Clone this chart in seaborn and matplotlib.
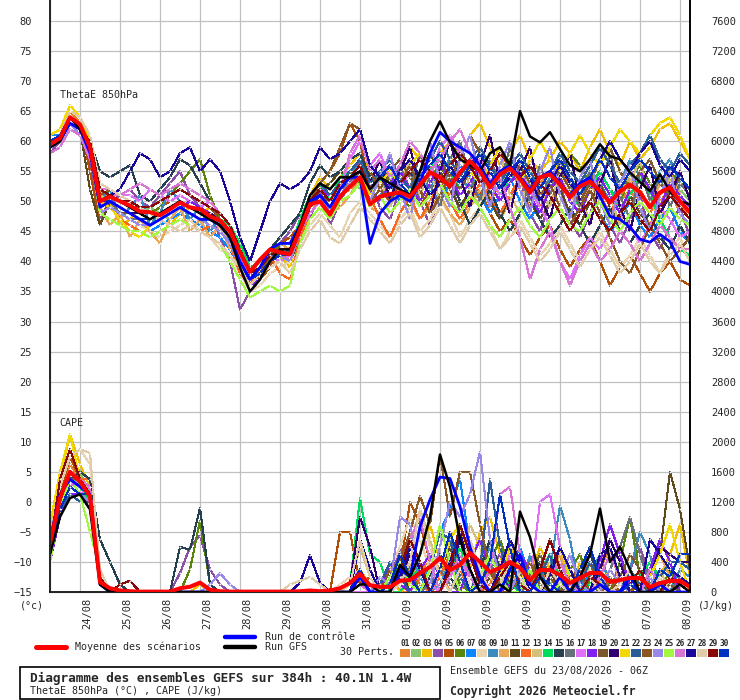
import numpy as np
import pandas as pd
import seaborn as sns
import matplotlib
matplotlib.use('Agg')
import matplotlib.pyplot as plt
from matplotlib.lines import Line2D
from matplotlib.patches import Rectangle
from matplotlib.transforms import ScaledTranslation

# ThetaE 850hPa (°C), one value every 6h from 23/08 06Z to 08/09 06Z
theta_mean = [59.5,60.5,64,62.8,59,50,50.8,50,49.3,48.3,48.2,47.7,48.7,49.8,49,48.7,47.5,46.8,45,41.5,38.3,40.3,42,41.5,41.2,45.3,49.5,50,47.8,50.8,52.5,54,49.5,50.8,51.2,51.5,50.8,52.8,54.8,54,52.5,54.8,56.7,55,52.3,54.5,55.5,53.7,51.5,54,54.5,52.8,50.7,52.5,53.3,51.7,49.8,51.7,52.8,51.5,49,51.5,52.3,50,48.2]
theta_ctrl = [59,60,63,62,58,49,50,49,48,47,46,47,48,49,48,47,47,46,44,40,37,39,42,43,43,46,50,51,49,52,54,54,43,48,50,51,50,53,58,61.5,60,59,58,56,53,55,56,54,52,54,55,53,51,53,54,50.8,47.5,47,45.7,43.7,43.2,44.5,43.3,40,39.5]
theta_gfs = [59,60,64,62,59,50,51,50,49,48,47,48,49,50,49,48,47,46,44,39,35,37,40,42,42,46,51,53,52,54,54,55,52,54,53,52,51,55,60,63.3,59.8,57,56,55,58,59,56,65,60.8,59.8,61.5,58.7,56,55,57,59.5,57.5,57,54.8,53.2,51.7,54.5,51.7,50,49.5]

theta_01 = [59,61,65,63,58,49,51,50,49,48,47,48,49,50,49,48,47,46,44,40,37,39,41,42,40,44,48,50,47,51,53,55,50,52,51,53,51,54,56,53,51,55,57,54,50,53,56,52,49,53,55,51,48,51,53,50,47,50,52,49,46,50,52,48,46]
theta_02 = [60,60,63,62,60,51,50,49,48,48,49,48,47,49,48,47,46,45,44,41,39,38,40,41,42,46,50,51,49,52,54,52,51,53,55,52,50,53,55,57,54,52,55,58,56,53,55,57,54,51,53,56,54,52,55,53,50,52,54,56,53,51,54,52,50]
theta_03 = [60,61,66,64,60,52,50,46,47,49,48,47,46,48,49,48,49,47,45,42,36,38,40,41,39,45,51,54,52,54,56,58,55,57,54,56,59,57,55,58,60,57,61,63,59,56,58,61,57,55,57,60,58,55,59,62,58,56,60,57,59,62,63,60,57]
theta_04 = [58,60,63,62,57,47,50,51,52,50,49,51,53,55,51,49,48,44,40,32,35,37,41,43,45,48,47,52,46,50,53,57,53,49,47,52,55,50,46,51,54,48,52,56,51,47,50,54,48,45,50,53,47,44,48,52,46,43,47,51,45,42,46,49,44]
theta_05 = [59,60,64,63,55,46,51,50,49,48,48,49,50,51,50,49,48,46,45,42,38,37,39,43,44,46,50,53,55,58,63,60,52,50,53,55,52,49,52,54,50,47,50,52,48,45,47,44,41,44,46,42,39,42,44,40,36,39,41,38,35,38,40,37,36]
theta_06 = [59,60,64,62,59,50,51,50,49,49,48,49,51,53,55,57,51,47,45,40,36,37,41,43,42,44,48,50,48,53,55,53,50,52,54,51,49,52,54,56,53,55,57,54,52,54,57,55,52,50,53,55,58,56,53,55,52,50,54,56,53,51,55,53,52]
theta_07 = [61,61,64,62,58,48,49,48,47,46,45,46,47,48,47,46,45,44,42,39,37,39,41,40,41,45,47,49,47,50,51,53,49,51,53,50,52,55,52,50,53,56,54,51,48,51,54,50,47,50,53,49,46,49,52,48,45,47,50,46,44,47,49,45,43]
theta_08 = [58,59,64,63,61,51,50,48,47,46,45,44,45,46,47,45,44,42,41,38,35,36,38,39,40,43,46,48,46,44,48,50,48,46,44,47,49,45,47,50,48,44,47,49,46,42,45,47,44,41,43,46,43,40,43,45,42,39,41,44,41,38,42,44,40]
theta_09 = [60,61,64,62,59,50,52,47,49,51,46,48,52,50,47,49,45,47,43,39,36,38,40,41,41,46,50,52,50,53,55,56,52,54,52,55,57,54,52,55,57,54,52,56,53,50,53,56,52,50,54,56,53,51,55,53,50,53,57,54,51,55,57,53,51]
theta_10 = [59,60,63,61,58,49,46,48,44,47,45,43,47,49,45,47,44,46,42,40,38,40,42,43,42,45,49,50,48,49,51,54,49,48,50,52,50,47,49,51,48,46,49,52,50,47,50,53,51,48,52,54,51,49,53,50,47,51,54,52,49,53,55,51,49]
theta_11 = [60,61,64,62,52,46,50,49,48,47,47,48,49,50,49,48,47,46,44,41,37,38,40,41,40,44,49,52,53,55,54,56,51,53,56,54,52,55,58,55,52,49,52,54,50,47,51,54,50,47,50,52,48,46,50,53,49,47,51,48,46,49,52,49,47]
theta_12 = [59,60,63,62,59,50,49,47,46,45,44,45,46,47,46,45,46,45,43,38,36,39,41,38,37,44,48,50,47,51,52,54,51,47,44,48,51,47,50,53,50,47,50,53,51,48,51,54,52,49,52,55,53,50,53,51,48,51,53,50,48,51,53,49,48]
theta_13 = [59,60,64,63,60,51,50,49,48,47,46,47,48,49,48,47,46,45,44,41,38,39,41,42,41,45,49,51,49,51,53,54,50,54,49,53,57,51,55,50,56,59,52,49,55,58,51,48,56,52,49,55,58,50,47,54,51,46,53,57,50,47,54,50,48]
theta_14 = [60,61,64,62,59,50,50,49,48,48,47,48,49,50,49,48,47,47,46,43,39,40,42,41,42,47,51,53,50,54,55,57,52,54,51,53,56,53,55,58,55,52,55,57,54,51,54,56,53,50,53,55,52,49,52,55,52,49,51,54,51,47,44,42,41]
theta_15 = [59,60,63,62,60,55,54,55,56,51,50,52,54,57,56,53,50,48,46,42,38,39,42,44,46,48,53,56,54,55,57,58,54,52,50,53,55,52,48,51,54,50,46,49,52,48,45,48,51,47,44,46,49,46,43,46,49,45,43,46,48,44,42,46,43]
theta_16 = [60,61,64,62,59,50,50,48,47,47,46,47,48,49,48,47,46,45,43,40,37,38,40,41,41,45,49,51,49,52,53,55,51,55,50,56,52,58,53,49,57,60,54,50,57,53,59,54,50,56,51,57,53,49,55,52,58,51,47,55,50,54,49,53,51]
theta_17 = [58,59,62,61,57,52,52,51,51,50,52,51,50,51,50,49,50,48,46,42,38,39,41,40,41,45,48,50,48,52,57,60,56,58,54,52,55,57,54,59,61,58,55,57,54,51,53,55,52,49,46,40,37,41,44,42,45,48,46,43,46,49,47,44,45]
theta_18 = [59,60,64,62,58,49,50,49,48,47,46,47,48,49,50,49,48,47,45,40,36,37,40,41,42,46,50,52,51,53,54,56,52,50,53,55,52,50,53,56,54,51,53,56,53,50,53,55,51,48,52,54,50,48,52,54,51,48,52,55,52,49,53,51,49]
theta_19 = [60,60,64,62,59,50,49,48,48,47,46,47,48,49,48,47,47,46,44,40,37,39,41,42,41,45,49,51,50,52,54,55,50,52,55,57,54,52,55,57,54,52,55,58,55,52,54,56,53,50,53,55,52,50,53,57,59,55,52,55,57,53,51,54,52]
theta_20 = [59,60,63,62,59,50,50,49,48,48,47,48,49,50,49,48,48,47,45,41,38,39,41,42,41,46,50,52,50,53,54,56,53,57,50,55,59,52,48,55,60,54,49,56,61,53,48,55,59,51,47,54,58,50,46,53,57,49,45,52,56,48,51,55,50]
theta_21 = [61,62,66,64,60,50,49,47,45,44,46,47,48,49,48,47,46,45,43,40,37,38,41,42,41,45,50,52,50,52,54,55,51,53,55,53,56,58,55,53,56,58,55,53,56,59,56,53,57,60,57,55,58,61,58,56,59,62,60,58,61,63,64,61,57]
theta_22 = [60,61,64,62,59,50,50,49,48,47,47,48,49,50,49,48,47,46,44,41,38,39,41,41,42,46,51,53,51,53,55,57,53,55,57,54,52,55,57,60,57,54,57,59,56,53,56,58,55,52,55,58,55,53,56,59,56,53,56,58,61,57,55,58,56]
theta_23 = [59,60,64,62,59,51,52,51,50,49,49,50,51,52,51,50,49,47,45,41,37,38,41,42,41,45,50,53,55,59,63,62,55,52,50,53,56,52,48,51,54,57,61,58,55,52,55,57,54,51,53,49,46,49,52,48,44,40,38,42,46,43,40,42,44]
theta_24 = [59,60,63,61,58,48,49,48,47,46,46,47,48,49,48,47,46,45,43,39,36,38,40,41,40,45,49,51,48,51,53,54,50,54,58,52,47,55,60,53,49,57,61,54,49,56,60,52,48,55,59,51,47,54,57,50,46,53,56,49,45,51,55,48,46]
theta_25 = [59,60,64,62,58,48,47,46,45,45,44,45,46,47,46,45,44,43,40,37,34,35,36,35,36,43,47,49,47,50,51,53,49,51,48,50,52,49,51,53,50,48,51,49,46,44,47,49,46,44,47,49,46,45,48,50,47,45,48,50,48,46,49,47,46]
theta_26 = [58,59,62,61,58,52,51,51,52,53,52,51,52,53,52,51,50,48,46,41,37,38,40,41,41,45,48,50,48,52,58,61,55,57,54,56,60,58,55,57,60,62,58,55,52,54,49,44,37,42,45,40,36,40,43,40,42,45,43,40,43,46,44,42,42]
theta_27 = [60,60,64,62,59,50,51,52,55,58,57,54,55,58,59,55,57,55,50,44,40,45,50,53,52,53,55,59,57,58,60,62,56,54,52,55,57,54,51,53,56,53,55,58,55,52,54,57,54,50,53,56,53,51,54,57,60,57,55,58,60,56,54,57,55]
theta_28 = [59,61,65,64,61,53,52,51,50,49,48,47,46,45,46,45,44,43,41,39,36,38,39,40,38,42,45,47,44,43,46,49,47,45,43,46,48,44,46,49,46,43,46,48,45,42,44,46,43,40,42,45,42,39,42,44,41,38,40,43,40,38,41,43,40]
theta_29 = [60,60,64,62,60,52,51,50,50,49,49,50,51,52,51,50,49,48,46,42,38,39,41,42,42,46,50,52,50,53,54,56,52,54,56,53,55,57,55,53,56,58,56,53,55,58,56,54,56,53,51,48,45,48,50,47,45,48,50,47,45,49,51,49,47]
theta_30 = [60,61,64,62,59,50,50,49,48,47,47,48,49,50,49,48,47,46,44,40,37,38,40,41,41,45,49,51,49,52,54,55,52,54,56,53,51,54,56,58,55,53,56,58,55,52,55,57,54,52,55,57,54,51,54,57,54,52,55,57,55,53,56,54,52]

# CAPE (J/kg)
cape_mean = [650,1250,1600,1470,1270,130,50,20,10,5,5,5,5,50,70,125,30,10,5,5,5,5,5,5,5,10,20,10,20,50,120,240,90,70,67,150,160,253,333,450,293,360,520,400,267,320,400,320,160,293,293,227,120,187,253,253,133,160,187,187,67,120,147,147,67]
cape_ctrl = [700,1300,1500,1400,1300,100,0,0,0,0,0,0,0,0,0,0,0,0,0,0,0,0,0,0,0,0,0,0,0,0,0,200,0,0,0,300,200,870,1230,1530,1510,1140,600,200,0,0,300,500,100,0,0,200,0,0,0,100,0,0,200,0,0,100,0,0,0]
cape_gfs = [500,1000,1250,1300,1100,100,0,0,0,0,0,0,0,0,0,0,0,0,0,0,0,0,0,0,0,0,0,0,0,0,0,100,100,0,0,360,200,500,1000,1830,1400,700,300,0,0,100,0,1070,730,200,0,0,0,200,500,1110,400,600,300,0,0,0,0,100,0]

cape_01 = [500,1300,1700,1500,1200,100,0,0,0,0,0,0,0,0,0,0,0,0,0,0,0,0,0,0,0,0,0,0,0,0,100,300,0,100,300,0,0,200,500,300,0,0,400,700,200,0,100,300,0,0,200,500,100,0,0,300,600,200,0,0,100,300,0,0,0]
cape_02 = [700,1400,1800,1600,1300,150,0,0,0,0,0,0,0,0,0,0,0,0,0,0,0,0,0,0,0,0,0,0,0,0,0,200,100,0,0,400,800,300,0,0,200,600,300,0,0,0,500,200,0,0,100,300,0,0,400,200,0,0,300,100,0,0,200,0,0]
cape_03 = [800,1500,2100,1700,1400,200,0,0,0,0,0,0,0,0,0,100,0,0,0,0,0,0,0,0,0,0,0,0,0,0,0,100,0,0,200,0,100,500,900,400,100,0,300,800,1000,500,100,0,200,600,300,0,0,400,200,0,0,100,300,0,0,200,500,900,200]
cape_04 = [400,1000,1500,1400,1300,200,0,0,0,0,0,0,0,250,600,750,300,100,0,0,0,0,0,0,0,0,0,0,0,0,0,0,0,0,200,600,300,0,0,100,400,200,0,0,300,500,200,0,100,400,200,0,0,200,500,300,0,0,300,600,200,0,0,100,0]
cape_05 = [600,1300,1800,1500,1200,150,0,0,0,0,0,0,0,0,0,0,0,0,0,0,0,0,0,0,0,0,0,0,0,800,800,100,200,0,0,300,1200,900,400,0,200,500,200,0,0,300,0,0,100,200,0,0,300,100,0,0,200,0,0,100,0,0,0,0,0]
cape_06 = [500,1200,1600,1500,1300,100,0,0,0,0,0,0,0,0,300,950,100,0,0,0,0,0,0,0,0,0,0,0,0,0,0,100,0,0,100,400,300,0,0,200,500,100,0,0,400,700,300,0,0,200,0,0,300,500,100,0,0,400,1000,200,0,0,300,0,0]
cape_07 = [600,1200,1500,1400,1200,100,0,0,0,0,0,0,0,0,0,0,0,0,0,0,0,0,0,0,0,0,0,0,0,0,0,200,0,0,100,300,0,0,400,800,1100,1500,600,200,0,0,300,600,200,0,0,100,0,0,300,100,0,0,200,0,0,100,0,0,0]
cape_08 = [700,1500,1800,1900,1700,300,0,0,0,0,0,0,0,0,0,0,0,0,0,0,0,0,0,0,0,0,0,0,0,100,200,300,0,0,300,600,1000,700,300,0,200,400,100,0,0,200,500,200,0,0,300,0,0,100,300,0,0,200,0,0,100,0,0,0,0]
cape_09 = [500,1100,1400,1300,1200,100,0,0,0,0,0,0,0,0,0,0,0,0,0,0,0,0,0,0,0,0,0,0,0,0,0,100,0,0,0,200,500,200,0,100,400,200,0,300,600,300,0,0,500,0,300,1150,700,0,200,500,100,0,300,800,500,0,0,300,200]
cape_10 = [600,1200,1500,1500,1300,150,0,0,0,0,0,0,0,0,0,0,0,0,0,0,0,0,0,0,0,0,0,0,0,0,100,300,100,0,0,200,400,100,0,0,300,800,500,100,0,300,700,300,0,0,200,500,200,0,0,400,600,100,0,0,200,500,200,0,0]
cape_11 = [500,1100,1500,1400,1200,100,0,0,0,0,0,0,0,0,0,0,0,0,0,0,0,0,0,0,0,0,0,0,0,0,0,200,0,0,200,400,100,0,0,300,600,200,0,0,200,400,100,0,0,200,300,0,0,100,400,200,0,0,100,300,200,500,1600,1100,300]
cape_12 = [600,1300,1600,1500,1500,200,0,0,0,0,0,0,0,0,0,0,0,0,0,0,0,0,0,0,0,0,0,0,0,0,0,100,0,0,0,100,300,100,0,200,500,300,0,0,100,400,200,0,0,300,100,0,0,200,400,100,0,0,300,100,0,0,200,0,0]
cape_13 = [500,1200,1500,1400,1300,100,0,0,0,0,0,0,0,0,0,0,0,0,0,0,0,0,0,0,0,0,0,0,0,0,100,600,200,0,0,200,600,1100,700,200,0,300,900,600,200,0,100,300,0,0,200,400,100,0,0,200,0,0,100,0,0,300,0,0,0]
cape_14 = [500,1200,1600,1400,1200,100,0,0,0,0,0,0,0,0,0,0,0,0,0,0,0,0,0,0,0,0,0,0,0,0,100,1250,500,400,0,0,200,300,100,0,300,600,200,0,0,200,100,0,0,300,500,200,0,0,100,300,100,0,0,200,400,200,0,0,0]
cape_15 = [600,1300,1500,1600,1500,700,400,100,0,0,0,0,0,600,560,1120,100,0,0,0,0,0,0,0,0,0,0,0,0,0,0,200,0,0,100,300,0,0,200,500,200,0,0,300,700,300,0,0,200,400,100,0,0,300,500,200,0,0,100,300,0,0,200,0,0]
cape_16 = [600,1200,1500,1400,1300,100,0,0,0,0,0,0,0,0,0,0,0,0,0,0,0,0,0,0,0,0,0,0,0,0,0,0,0,0,100,200,0,0,100,300,100,0,0,200,400,100,0,0,100,300,0,0,100,200,0,0,300,600,1000,500,100,0,0,200,100]
cape_17 = [500,1000,1300,1300,1400,200,0,0,0,0,0,0,0,0,0,0,0,0,0,0,0,0,0,0,0,0,0,0,0,0,0,0,0,0,0,200,500,300,100,0,200,400,200,0,0,200,500,300,100,1200,1300,600,200,0,0,200,0,0,100,0,0,0,0,0,0]
cape_18 = [400,1000,1300,1300,1100,100,0,0,0,0,0,0,0,0,0,0,0,0,0,0,0,0,0,0,0,0,0,0,0,0,100,300,0,0,400,100,0,300,500,200,0,0,400,700,300,0,100,500,300,0,0,200,100,0,0,400,900,500,100,0,300,700,400,0,0]
cape_19 = [600,1300,1600,1500,1300,100,0,0,0,0,0,0,0,0,0,0,0,0,0,0,0,0,0,0,0,0,0,0,0,0,0,100,0,0,100,300,200,0,0,300,700,400,0,0,300,100,0,0,200,500,200,0,0,100,400,0,0,200,500,300,0,0,100,0,0]
cape_20 = [500,1100,1400,1300,1200,100,0,0,0,0,0,0,0,0,0,0,0,0,0,0,0,0,0,0,0,0,0,0,0,0,100,1000,600,0,0,200,500,400,0,0,300,700,300,0,0,200,400,100,0,0,300,600,200,0,0,300,700,400,0,0,200,600,500,400,400]
cape_21 = [900,1600,2100,1500,1300,200,0,0,0,0,0,0,0,0,0,0,0,0,0,0,0,0,0,0,0,0,0,0,0,0,0,100,0,0,200,400,100,0,0,300,700,900,300,0,0,200,600,300,0,0,200,600,200,0,0,100,300,100,0,0,200,500,900,400,0]
cape_22 = [500,1100,1300,1200,1200,100,0,0,0,0,0,0,0,0,0,0,0,0,0,0,0,0,0,0,0,0,0,0,0,0,0,200,0,100,400,200,0,0,300,800,700,200,0,300,1500,600,200,0,0,200,500,0,0,100,400,200,0,0,300,100,0,200,400,400,300]
cape_23 = [600,1200,1500,1500,1400,200,0,0,0,0,0,0,0,0,0,0,0,0,0,0,0,0,0,0,0,0,0,0,0,0,0,100,0,0,300,400,800,1280,900,1830,1000,1600,1600,900,300,0,0,200,400,100,0,0,200,300,0,0,100,0,0,200,0,0,0,0,0]
cape_24 = [500,1100,1400,1300,1200,100,0,0,0,0,0,0,0,0,0,0,100,250,100,0,0,0,0,0,0,0,0,0,0,0,0,200,0,200,100,1000,900,300,100,600,1200,1000,1300,1870,700,200,0,300,100,0,0,200,500,100,0,0,300,100,0,0,200,0,0,100,0]
cape_25 = [400,1100,1500,1300,800,300,0,0,0,0,0,0,0,0,0,0,0,0,0,0,0,0,0,0,0,0,0,0,0,0,0,100,0,0,200,400,100,0,300,900,400,0,0,200,500,200,0,0,300,0,0,100,300,0,0,200,0,0,100,300,0,0,0,0,0]
cape_26 = [500,1100,1400,1500,1400,200,0,0,0,0,0,0,0,0,0,0,0,0,0,0,0,0,0,0,0,0,0,0,0,0,0,100,0,0,100,300,700,1000,400,0,200,500,200,0,300,1300,1400,500,100,0,200,400,100,0,0,200,500,200,0,0,300,100,0,0,0]
cape_27 = [600,1300,1500,1400,1300,100,0,0,0,0,0,0,0,0,0,0,0,0,0,0,0,0,0,0,0,120,490,120,0,0,0,700,300,0,0,200,600,300,0,0,400,800,300,0,0,300,700,400,0,0,200,600,300,0,0,500,600,200,0,0,700,500,300,200,100]
cape_28 = [700,1400,1800,1900,1850,300,0,0,0,0,0,0,0,0,0,0,0,0,0,0,0,0,0,0,100,150,200,100,0,0,100,700,200,0,0,100,400,1100,600,200,0,300,700,300,0,100,400,200,0,0,300,100,0,0,200,0,0,100,300,0,0,200,0,0,0]
cape_29 = [600,1500,1900,1500,1300,200,0,100,150,0,0,0,0,0,0,0,0,0,0,0,0,0,0,0,0,0,0,0,0,0,0,200,0,0,100,300,700,400,0,0,300,900,500,100,0,200,400,100,0,300,700,300,0,0,200,100,0,0,100,300,0,0,200,100,0]
cape_30 = [500,1100,1400,1300,1300,100,0,0,0,0,0,0,0,0,0,0,0,0,0,0,0,0,0,0,0,0,0,0,0,0,0,300,0,0,100,500,200,0,0,300,800,400,0,100,400,1300,600,0,0,200,100,0,0,300,600,200,0,0,100,0,0,300,200,500,500]

member_colors = ['#e8832e', '#88c46c', '#f0c000', '#8c4fa8', '#b04e08', '#5a840a', '#0a84ff', '#e8d4b0',
                 '#3a8cc0', '#e8a858', '#5e4a1c', '#f86820', '#d4c078', '#00dc5c', '#264050', '#687078',
                 '#e070f8', '#8020f0', '#7a5a2c', '#300070', '#f0d800', '#2a5c98', '#8a5624', '#9888e8',
                 '#a0f840', '#d874d4', '#1a0898', '#e0ccaa', '#880808', '#0030c0']

day_labels = ['24/08', '25/08', '26/08', '27/08', '28/08', '29/08', '30/08', '31/08',
              '01/09', '02/09', '03/09', '04/09', '05/09', '06/09', '07/09', '08/09']

theta_members = [theta_01, theta_02, theta_03, theta_04, theta_05, theta_06, theta_07, theta_08, theta_09, theta_10,
                 theta_11, theta_12, theta_13, theta_14, theta_15, theta_16, theta_17, theta_18, theta_19, theta_20,
                 theta_21, theta_22, theta_23, theta_24, theta_25, theta_26, theta_27, theta_28, theta_29, theta_30]
cape_members = [cape_01, cape_02, cape_03, cape_04, cape_05, cape_06, cape_07, cape_08, cape_09, cape_10,
                cape_11, cape_12, cape_13, cape_14, cape_15, cape_16, cape_17, cape_18, cape_19, cape_20,
                cape_21, cape_22, cape_23, cape_24, cape_25, cape_26, cape_27, cape_28, cape_29, cape_30]

n = len(theta_mean)
hours = np.arange(n) * 6
for tag, group in [('theta', theta_members), ('cape', cape_members)]:
    for k, s in enumerate(group):
        if len(s) != n:
            raise ValueError('%s %02d has %d values' % (tag, k + 1, len(s)))

sns.set_style('white')
plt.rcParams['font.family'] = ['DejaVu Sans Mono']

W, H = 740, 700
fig = plt.figure(figsize=(W / 100, H / 100), dpi=100)
ax = fig.add_axes([50 / W, 1 - 592 / H, 640 / W, 592 / H])
ymin, ymax = -15, 83.5
ax.set_xlim(0, 384)
ax.set_ylim(ymin, ymax)

ax.set_yticks(np.arange(-15, 81, 5))
ax.set_xticks(18 + 24 * np.arange(len(day_labels)))
ax.grid(True, color='#c0c0c0', lw=0.9)
ax.set_axisbelow(True)
for s in ['left', 'right', 'bottom']:
    ax.spines[s].set_color('black')
    ax.spines[s].set_linewidth(1.2)
ax.spines['top'].set_visible(False)

ax2 = ax.twinx()
ax2.spines['top'].set_visible(False)
ax2.spines['right'].set_color('black')
ax2.spines['right'].set_linewidth(1.2)

# thin 1px lines with tiny crosses at each 6h step
thin = dict(lw=0.75, marker='+', ms=2, mew=0.6, antialiased=False)
for s, c in zip(theta_members, member_colors):
    sns.lineplot(x=hours, y=s, color=c, ax=ax, **thin)
sns.lineplot(x=hours, y=theta_ctrl, color='#0000ff', lw=2.0, ax=ax)
sns.lineplot(x=hours, y=theta_gfs, color='black', lw=1.8, ax=ax)
sns.lineplot(x=hours, y=theta_mean, color='#ff0000', lw=2.9, ax=ax)

for s, c in zip(cape_members, member_colors):
    sns.lineplot(x=hours, y=s, color=c, ax=ax2, **thin)
sns.lineplot(x=hours, y=cape_ctrl, color='#0000ff', lw=2.0, ax=ax2)
sns.lineplot(x=hours, y=cape_gfs, color='black', lw=1.8, ax=ax2)
sns.lineplot(x=hours, y=cape_mean, color='#ff0000', lw=2.9, ax=ax2)
ax2.set_ylim((ymin + 15) * 80, (ymax + 15) * 80)
ax2.set_yticks(np.arange(0, 7601, 400))

ax.set_xlabel('')
ax.set_ylabel('')
ax2.set_ylabel('')
ax.tick_params(axis='y', length=0, pad=13, labelsize=7.5)
ax2.tick_params(axis='y', length=0, pad=15, labelsize=7.5)
ax.set_xticklabels(day_labels, rotation=90, fontsize=7.5)
ax.tick_params(axis='x', length=0, pad=4)
for lab in ax.get_xticklabels():
    lab.set_transform(lab.get_transform() + ScaledTranslation(7 / 100, 0, fig.dpi_scale_trans))


def px(x, y):
    return x / W, 1 - y / H


fs = 7.2
fig.text(*px(60, 95), 'ThetaE 850hPa', fontsize=fs, va='center')
fig.text(*px(59, 423), 'CAPE', fontsize=fs, va='center')
fig.text(*px(20, 606), '(°c)', fontsize=fs, va='center')
fig.text(*px(698, 606), '(J/kg)', fontsize=fs, va='center')

fig.add_artist(Line2D([36 / W, 66 / W], [1 - 647 / H] * 2, color='#ff0000', lw=3.6))
fig.text(*px(75, 647), 'Moyenne des scénarios', fontsize=fs, va='center')
fig.add_artist(Line2D([225 / W, 255 / W], [1 - 637 / H] * 2, color='#0000ff', lw=3.2))
fig.text(*px(265, 637), 'Run de contrôle', fontsize=fs, va='center')
fig.add_artist(Line2D([225 / W, 255 / W], [1 - 647 / H] * 2, color='black', lw=3.2))
fig.text(*px(265, 647), 'Run GFS', fontsize=fs, va='center')
fig.text(*px(340, 652), '30 Perts.', fontsize=fs, va='center')

for k, c in enumerate(member_colors):
    x0 = 400 + 11 * k
    fig.add_artist(Rectangle((x0 / W, 1 - 657 / H), 10 / W, 8 / H, transform=fig.transFigure,
                             facecolor=c, edgecolor='none'))
    fig.text(*px(x0 + 5, 643), '%02d' % (k + 1), fontsize=5.6, fontweight='bold',
             ha='center', va='center')

fig.add_artist(Rectangle((20 / W, 1 - 699 / H), 420 / W, 32 / H, transform=fig.transFigure,
                         facecolor='white', edgecolor='black', lw=1.2))
fig.text(*px(30, 678), 'Diagramme des ensembles GEFS sur 384h : 40.1N 1.4W', fontsize=9.2,
         fontweight='bold', va='center')
fig.text(*px(30, 691), 'ThetaE 850hPa (°C) , CAPE (J/kg)', fontsize=fs, va='center')
fig.text(*px(450, 671), 'Ensemble GEFS du 23/08/2026 - 06Z', fontsize=fs, va='center')
fig.text(*px(450, 691), 'Copyright 2026 Meteociel.fr', fontsize=8.3, fontweight='bold', va='center')

fig.savefig('out.png', dpi=100)
